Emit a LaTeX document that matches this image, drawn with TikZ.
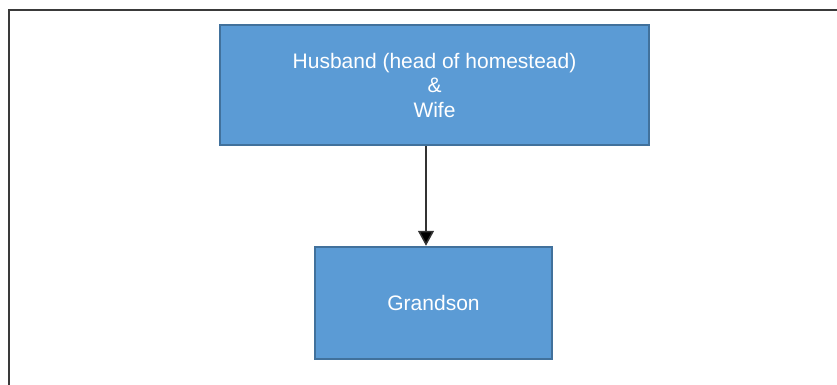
\documentclass[tikz,border=0pt]{standalone}
\usepackage{fontspec}
\setmainfont{Liberation Sans}
\usetikzlibrary{arrows.meta}
\definecolor{boxfill}{HTML}{5B9BD5}
\definecolor{boxline}{HTML}{41719C}
\definecolor{frameline}{HTML}{3A3A3A}
\begin{document}
\begin{tikzpicture}[x=1pt, y=-1pt,
    member/.style={rectangle, draw=boxline, fill=boxfill, line width=2.5pt, inner sep=0pt, text=white, align=center, font=\fontsize{21}{24.5}\selectfont},
    link/.style={line width=1.5pt, draw=black!80, -{Triangle[width=16pt, length=15pt, fill=black]}}
]

\useasboundingbox (0, 0) rectangle (837, 385);
\draw[frameline, line width=2pt] (8.5, 385) -- (8.5, 10.5) -- (837, 10.5);

\node[member, minimum width=429pt, minimum height=120pt] (couple) at (434.5, 85) {Husband (head of homestead)\\\&\\Wife};
\node[member, minimum width=237pt, minimum height=112pt] (grandson) at (433.5, 303) {Grandson};

\draw[link] ([xshift=-8.5pt]couple.south) -- ([xshift=-7.5pt]grandson.north);

\end{tikzpicture}
\end{document}
